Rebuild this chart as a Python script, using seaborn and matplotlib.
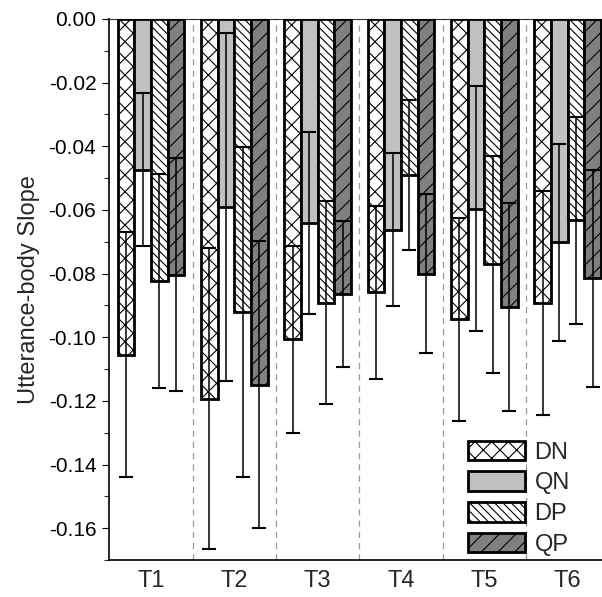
import numpy as np
import pandas as pd
import matplotlib
matplotlib.use("Agg")
import matplotlib.pyplot as plt
import seaborn as sns
from matplotlib.patches import Patch
from matplotlib.ticker import MultipleLocator, FuncFormatter

# Mean utterance-body slope per session and condition, with SD
sessions = ["T1", "T2", "T3", "T4", "T5", "T6"]
conditions = ["DN", "QN", "DP", "QP"]

dn_mean = [-0.1055, -0.1193, -0.1007, -0.0859, -0.0943, -0.0892]
dn_sd = [0.0385, 0.0473, 0.0294, 0.0272, 0.0319, 0.0353]
qn_mean = [-0.0473, -0.0591, -0.0641, -0.0662, -0.0597, -0.0702]
qn_sd = [0.0240, 0.0547, 0.0287, 0.0240, 0.0385, 0.0310]
dp_mean = [-0.0823, -0.0920, -0.0891, -0.0491, -0.0771, -0.0633]
dp_sd = [0.0336, 0.0518, 0.0320, 0.0235, 0.0340, 0.0325]
qp_mean = [-0.0804, -0.1149, -0.0864, -0.0800, -0.0905, -0.0815]
qp_sd = [0.0366, 0.0450, 0.0230, 0.0249, 0.0328, 0.0340]

means = {"DN": dn_mean, "QN": qn_mean, "DP": dp_mean, "QP": qp_mean}
sds = {"DN": dn_sd, "QN": qn_sd, "DP": dp_sd, "QP": qp_sd}

fills = {"DN": "white", "QN": "#c0c0c0", "DP": "white", "QP": "#808080"}
hatches = {"DN": "xx", "QN": "", "DP": "\\\\\\\\", "QP": "//"}

rows = []
for cond in conditions:
    for s, m in zip(sessions, means[cond]):
        rows.append({"session": s, "condition": cond, "slope": m})
df = pd.DataFrame(rows)

sns.set_theme(style="ticks")
plt.rcParams["font.family"] = ["Liberation Sans", "DejaVu Sans"]
plt.rcParams["axes.unicode_minus"] = False
plt.rcParams["hatch.linewidth"] = 0.8
plt.rcParams["hatch.color"] = "black"

fig = plt.figure(figsize=(6.02, 5.97), dpi=100)
ax = fig.add_axes([0.1816, 0.062, 0.8306, 0.9062])

# session separators
for xb in np.arange(0.5, len(sessions) - 0.5, 1.0):
    ax.axvline(xb, color="#9a9a9a", lw=0.9, ls=(0, (5, 4)), zorder=1)

sns.barplot(data=df, x="session", y="slope", hue="condition",
            order=sessions, hue_order=conditions, palette=fills,
            saturation=1, errorbar=None, width=0.8, edgecolor="black",
            linewidth=2.0, legend=False, ax=ax, zorder=3)

for container, cond in zip(ax.containers, conditions):
    xc = []
    for bar in container:
        bar.set_hatch(hatches[cond])
        xc.append(bar.get_x() + bar.get_width() / 2)
    ax.errorbar(xc, means[cond], yerr=sds[cond], fmt="none", ecolor="black",
                elinewidth=1.1, capsize=5, capthick=1.5, zorder=4)

ax.set_xlim(-0.5, 5.5)
ax.set_ylim(-0.17, 0.0)
ax.yaxis.set_major_locator(MultipleLocator(0.02))
ax.yaxis.set_minor_locator(MultipleLocator(0.01))
ax.yaxis.set_major_formatter(FuncFormatter(lambda v, p: "%.2f" % (0.0 if abs(v) < 1e-9 else v)))

ax.tick_params(axis="y", which="major", direction="out", length=5.4, width=0.8,
               labelsize=15, pad=4, colors="black")
ax.tick_params(axis="y", which="minor", direction="out", length=3.6, width=0.8)
ax.tick_params(axis="x", length=0, labelsize=17, pad=7)

ax.set_xlabel("")
ax.set_ylabel("Utterance-body Slope", fontsize=17, labelpad=6)

ax.spines["right"].set_visible(False)
ax.spines["top"].set_color("#333333")
ax.spines["top"].set_linewidth(0.8)
for side in ("left", "bottom"):
    ax.spines[side].set_color("black")
    ax.spines[side].set_linewidth(1.2)

handles = [Patch(facecolor=fills[c], edgecolor="black", linewidth=2.0,
                 hatch=hatches[c], label=c) for c in conditions]
ax.legend(handles=handles, loc="lower left", bbox_to_anchor=(0.718, 0.008),
          frameon=False, fontsize=17, handlelength=2.42, handleheight=0.89,
          handletextpad=0.38, labelspacing=0.33, borderpad=0, borderaxespad=0)

fig.savefig("out.png", dpi=100)
